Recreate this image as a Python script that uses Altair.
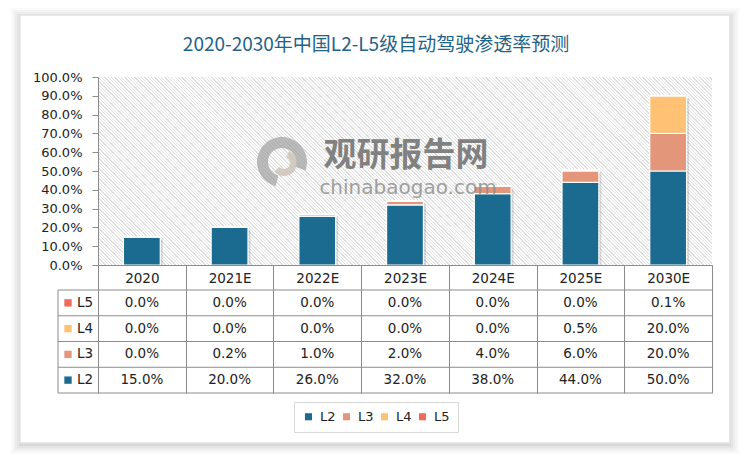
import altair as alt
import pandas as pd

# ---------------- data ----------------
categories = ["2020", "2021E", "2022E", "2023E", "2024E", "2025E", "2030E"]
levels = ["L2", "L3", "L4", "L5"]
l2_share = [0.15, 0.20, 0.26, 0.32, 0.38, 0.44, 0.50]
l3_share = [0.0, 0.002, 0.01, 0.02, 0.04, 0.06, 0.20]
l4_share = [0.0, 0.0, 0.0, 0.0, 0.0, 0.005, 0.20]
l5_share = [0.0, 0.0, 0.0, 0.0, 0.0, 0.0, 0.001]
table_rows = ["L5", "L4", "L3", "L2"]
y_ticks = [0.0, 0.1, 0.2, 0.3, 0.4, 0.5, 0.6, 0.7, 0.8, 0.9, 1.0]
title_text = "2020-2030年中国L2-L5级自动驾驶渗透率预测"
wm_cn = "观研报告网"
wm_en = "chinabaogao.com"

# ---------------- styles ----------------
level_colors = ["#1B6A8F", "#E3967A", "#FFC174", "#EE6A5A"]
W, H = 614, 188
FONT = "DejaVu Sans"
GRID = "#8C8C8C"
ROW_TOP, ROW_BOTTOM = 213, 316

records = []
for i, (lvl, vals) in enumerate(zip(levels, [l2_share, l3_share, l4_share, l5_share])):
    for c, v in zip(categories, vals):
        records.append({"cat": c, "level": lvl, "value": v, "ord": i})
df = pd.DataFrame(records)
rows_df = pd.DataFrame({"level": table_rows})
one = pd.DataFrame({"k": [0]})

xscale = alt.Scale(domain=categories, padding=0)
color_scale = alt.Scale(domain=levels, range=level_colors)
yscale = alt.Scale(domain=[0, 1], nice=False)
tscale = alt.Scale(type="band", domain=table_rows, range=[ROW_TOP, ROW_BOTTOM], padding=0)

x_axis = alt.Axis(title=None, tickBand="extent", tickSize=128, tickColor=GRID,
                  domainColor=GRID, labelPadding=-122, labelFont=FONT,
                  labelFontSize=13.5, labelColor="#222222", labelAngle=0, grid=False,
                  zindex=2)
x_enc = alt.X("cat:N", sort=categories, scale=xscale, axis=x_axis)

# ---------------- card with soft shadow ----------------
card_layers = []
for grow, op in [(9, 0.018), (7, 0.022), (5, 0.028), (3, 0.035), (1, 0.05)]:
    card_layers.append(
        alt.Chart(one).mark_rect(color="black", opacity=op).encode(
            x=alt.value(-78 - grow), x2=alt.value(632 + grow),
            y=alt.value(-62 - grow + 2), y2=alt.value(366 + grow + 2))
    )
card = alt.Chart(one).mark_rect(fill="white", stroke="#E2E2E2", strokeWidth=1.5).encode(
    x=alt.value(-78), x2=alt.value(632), y=alt.value(-62), y2=alt.value(366))

# ---------------- hatched plot background ----------------
n_stripes = 240
period = 1.0 / n_stripes
stops = []
for k in range(n_stripes):
    a = k * period
    b = a + period * 0.4
    stops += [alt.GradientStop(offset=a, color="#FFFFFF"),
              alt.GradientStop(offset=a, color="#E0E0E0"),
              alt.GradientStop(offset=b, color="#E0E0E0"),
              alt.GradientStop(offset=b, color="#FFFFFF")]
hatch = alt.Chart(one).mark_rect(
    fill=alt.LinearGradient(gradient="linear", stops=stops, x1=0, y1=1, x2=1.1943, y2=0.6343)
).encode(x=alt.value(0), x2=alt.value(W), y=alt.value(0), y2=alt.value(H))

# ---------------- watermark ----------------
logo_outer = alt.Chart(one).mark_arc(radius=25, radius2=14, theta=3.4, theta2=8.2,
                                     color="#9E9E9E", opacity=0.7).encode(
    x=alt.value(184), y=alt.value(85))
logo_inner = alt.Chart(one).mark_arc(radius=13, radius2=6, theta=0.4, theta2=4.0,
                                     color="#C9C1B4", opacity=0.8).encode(
    x=alt.value(186), y=alt.value(86))
wm1 = alt.Chart(one).mark_text(text=wm_cn, font="Noto Sans CJK SC", fontWeight="bold",
                               fontSize=33, color="#6E6E6E", opacity=0.85).encode(
    x=alt.value(308), y=alt.value(79))
wm2 = alt.Chart(one).mark_text(text=wm_en, font=FONT, fontSize=20,
                               color="#8A8A8A", opacity=0.8).encode(
    x=alt.value(310), y=alt.value(111))

# ---------------- bars ----------------
shadow = alt.Chart(df).transform_aggregate(
    total="sum(value)", groupby=["cat"]
).mark_bar(width=alt.RelativeBandSize(0.42), color="black", opacity=0.13,
           xOffset=2.5, yOffset=2.5, clip=True).encode(
    x=x_enc,
    y=alt.Y("total:Q", scale=yscale, axis=None),
)

bars = alt.Chart(df).mark_bar(width=alt.RelativeBandSize(0.42), stroke="white",
                              strokeWidth=1.2).encode(
    x=x_enc,
    y=alt.Y("value:Q", stack="zero", scale=yscale, title=None,
            axis=alt.Axis(values=y_ticks, format=".1%", labelFont=FONT, labelFontSize=13,
                          labelColor="#222222", tickColor=GRID, tickSize=6,
                          domainColor=GRID, labelPadding=10, grid=False, zindex=2)),
    color=alt.Color("level:N", scale=color_scale,
                    legend=alt.Legend(title=None, orient="none", legendX=196, legendY=325,
                                      direction="horizontal", symbolType="square",
                                      symbolSize=50, symbolStrokeWidth=0,
                                      labelFont=FONT, labelFontSize=13, labelColor="#222222",
                                      strokeColor="#D9D9D9", fillColor="white", padding=8,
                                      columnPadding=4, labelOffset=5, zindex=2)),
    order=alt.Order("ord:Q"),
)

# ---------------- data table ----------------
row_lines = alt.Chart(rows_df).mark_rule(color=GRID, strokeWidth=1).encode(
    y=alt.Y("level:N", scale=tscale, bandPosition=0, axis=None),
    x=alt.value(-40), x2=alt.value(W))
bottom_line = alt.Chart(one).mark_rule(color=GRID, strokeWidth=1).encode(
    y=alt.value(ROW_BOTTOM), x=alt.value(-40), x2=alt.value(W))
left_line = alt.Chart(one).mark_rule(color=GRID, strokeWidth=1).encode(
    x=alt.value(-40), y=alt.value(ROW_TOP), y2=alt.value(ROW_BOTTOM))

cells = alt.Chart(df).mark_text(font=FONT, fontSize=13.5, color="#222222").encode(
    x=x_enc,
    y=alt.Y("level:N", scale=tscale, bandPosition=0.5, axis=None),
    text=alt.Text("value:Q", format=".1%"))

swatches = alt.Chart(rows_df).mark_square(size=54, opacity=1).encode(
    x=alt.value(-30),
    y=alt.Y("level:N", scale=tscale, bandPosition=0.5, axis=None),
    fill=alt.Fill("level:N", scale=color_scale, legend=None))
row_labels = alt.Chart(rows_df).mark_text(font=FONT, fontSize=13.5, color="#222222",
                                          align="left").encode(
    x=alt.value(-21),
    y=alt.Y("level:N", scale=tscale, bandPosition=0.5, axis=None),
    text="level:N")

chart = alt.layer(
    *card_layers, card, hatch, logo_outer, logo_inner, shadow, bars, wm1, wm2,
    row_lines, bottom_line, left_line, cells, swatches, row_labels
).resolve_scale(
    y="independent"
).properties(
    width=W, height=H,
    padding={"left": 98, "top": 77, "right": 38, "bottom": 195},
    autosize="none",
    background="white",
    title=alt.Title(title_text, font="Noto Sans CJK SC", fontSize=19, fontWeight="normal",
                    color="#1F6388", anchor="middle", frame="group", dx=-29, offset=16,
                    dy=63, zindex=2),
).configure_view(stroke=None)

chart.save("out.html", embed_options={"renderer": "svg", "actions": False})
